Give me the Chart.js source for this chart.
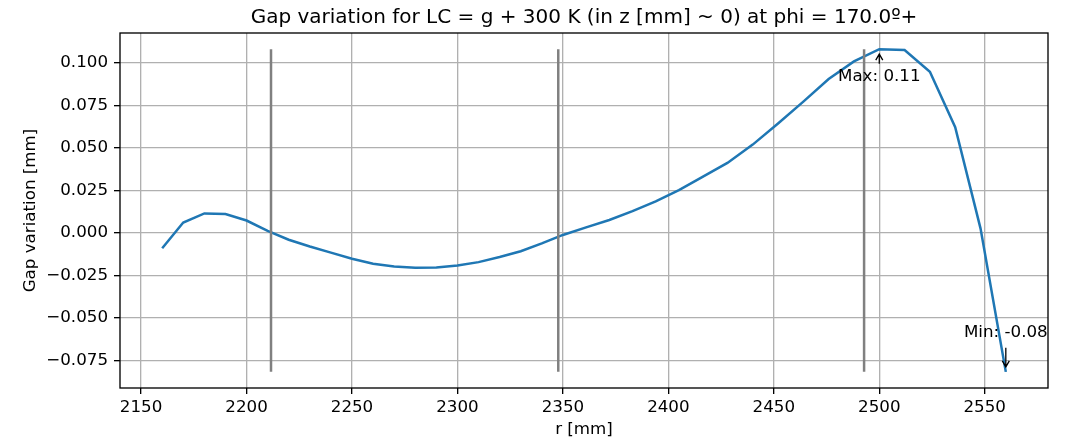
<!DOCTYPE html>
<html>
<head>
<meta charset="utf-8">
<script src="https://cdn.jsdelivr.net/npm/chart.js@4.4.1/dist/chart.umd.min.js"></script>
<style>
  html, body { margin: 0; padding: 0; background: #fff; }
  #wrap { width: 1071px; height: 441px; }
</style>
</head>
<body>
<div id="wrap"><canvas id="gapChart" width="1071" height="441"></canvas></div>
<script>
// r positions [mm] and gap variation [mm]
const rValues = [
  2160, 2170, 2180, 2190, 2200, 2210, 2220, 2230, 2240, 2250,
  2260, 2270, 2280, 2290, 2300, 2310, 2320, 2330, 2340, 2350,
  2361, 2372, 2383, 2394, 2405, 2416, 2428, 2440, 2452, 2464,
  2476, 2488, 2500, 2512, 2524, 2536, 2548, 2560
];
const gapValues = [
  -0.0090, 0.0061, 0.0115, 0.0111, 0.0073, 0.0012, -0.0040, -0.0080, -0.0116, -0.0152,
  -0.0182, -0.0198, -0.0205, -0.0204, -0.0192, -0.0172, -0.0142, -0.0108, -0.0062, -0.0012,
  0.0033, 0.0076, 0.0128, 0.0186, 0.0252, 0.0328, 0.0412, 0.0520, 0.0644, 0.0773,
  0.0906, 0.1010, 0.1082, 0.1077, 0.0949, 0.0622, 0.0027, -0.0818
];
// sector boundaries drawn as vertical grey lines
const sectorEdges = [2211.6, 2347.8, 2492.8];

const xTicks = [2150, 2200, 2250, 2300, 2350, 2400, 2450, 2500, 2550];
const yTicks = [-0.075, -0.05, -0.025, 0, 0.025, 0.05, 0.075, 0.1];

const titleText = 'Gap variation for LC = g + 300 K (in z [mm] ~ 0) at phi = 170.0º+';
const xLabel = 'r [mm]';
const yLabel = 'Gap variation [mm]';

const FONT = '"DejaVu Sans", sans-serif';

const gapMax = Math.max(...gapValues);
const gapMin = Math.min(...gapValues);
const rAtMax = rValues[gapValues.indexOf(gapMax)];
const rAtMin = rValues[gapValues.indexOf(gapMin)];

// matplotlib-like 5% margins
const xPad = (rValues[rValues.length - 1] - rValues[0]) * 0.05;
const yPad = (gapMax - gapMin) * 0.05;

const fmtY = v => {
  const s = Math.abs(v).toFixed(3);
  return v < -1e-9 ? '\u2212' + s : s;
};

const annotations = [
  { text: 'Max: ' + gapMax.toFixed(2), x: rAtMax, y: gapMax, dy: 27.5, startGap: -13, tipGap: 5 },
  { text: 'Min: ' + gapMin.toFixed(2), x: rAtMin, y: gapMin, dy: -39, startGap: 15, tipGap: -5 }
];

const overlayPlugin = {
  id: 'overlay',
  afterDraw(chart) {
    const { ctx, chartArea: a, scales: { x, y } } = chart;
    ctx.save();

    // frame
    ctx.strokeStyle = '#000';
    ctx.lineWidth = 1.33;
    ctx.strokeRect(a.left, a.top, a.right - a.left, a.bottom - a.top);

    ctx.fillStyle = '#000';

    // title
    ctx.font = '20px ' + FONT;
    ctx.textAlign = 'center';
    ctx.textBaseline = 'alphabetic';
    ctx.fillText(titleText, (a.left + a.right) / 2, a.top - 10);

    // axis labels
    ctx.font = '16.7px ' + FONT;
    ctx.textBaseline = 'top';
    ctx.fillText(xLabel, (a.left + a.right) / 2, a.bottom + 33);

    ctx.save();
    ctx.translate(31, (a.top + a.bottom) / 2);
    ctx.rotate(-Math.PI / 2);
    ctx.textBaseline = 'middle';
    ctx.fillText(yLabel, 0, 0);
    ctx.restore();

    // annotations
    annotations.forEach(an => {
      const px = x.getPixelForValue(an.x);
      const py = y.getPixelForValue(an.y);
      const ty = py + an.dy;
      ctx.textAlign = 'center';
      ctx.textBaseline = 'middle';
      ctx.fillText(an.text, px, ty);

      const y0 = ty + an.startGap;
      const y1 = py + an.tipGap;
      const dir = y1 < y0 ? -1 : 1;
      ctx.strokeStyle = '#000';
      ctx.lineWidth = 1.3;
      ctx.beginPath();
      ctx.moveTo(px, y0);
      ctx.lineTo(px, y1);
      ctx.moveTo(px - 3.5, y1 - dir * 6);
      ctx.lineTo(px, y1);
      ctx.lineTo(px + 3.5, y1 - dir * 6);
      ctx.stroke();
    });

    ctx.restore();
  }
};

const sectorSets = sectorEdges.map(r => ({
  data: [{ x: r, y: gapMin }, { x: r, y: gapMax }],
  borderColor: '#808080',
  borderWidth: 2.5,
  pointRadius: 0,
  order: 0
}));

new Chart(document.getElementById('gapChart'), {
  type: 'line',
  data: {
    datasets: [
      {
        data: rValues.map((r, i) => ({ x: r, y: gapValues[i] })),
        borderColor: '#1f77b4',
        borderWidth: 2.5,
        pointRadius: 0,
        tension: 0,
        order: 1
      },
      ...sectorSets
    ]
  },
  options: {
    responsive: false,
    animation: false,
    devicePixelRatio: 1,
    layout: { padding: { top: 33, right: 23, left: 0, bottom: 0 } },
    plugins: {
      legend: { display: false },
      tooltip: { enabled: false },
      title: { display: false }
    },
    scales: {
      x: {
        type: 'linear',
        min: rValues[0] - xPad,
        max: rValues[rValues.length - 1] + xPad,
        afterBuildTicks: s => { s.ticks = xTicks.map(v => ({ value: v })); },
        afterFit: s => { s.height = 53; },
        border: { display: false },
        grid: {
          color: '#b0b0b0',
          lineWidth: 1.33,
          tickLength: 6,
          tickColor: '#000',
          tickWidth: 1.33
        },
        ticks: {
          color: '#000',
          font: { family: FONT, size: 16.7 },
          padding: 4,
          maxRotation: 0,
          autoSkip: false,
          callback: v => String(v)
        }
      },
      y: {
        type: 'linear',
        min: gapMin - yPad,
        max: gapMax + yPad,
        afterBuildTicks: s => { s.ticks = yTicks.map(v => ({ value: v })); },
        afterFit: s => { s.width = 120; },
        border: { display: false },
        grid: {
          color: '#b0b0b0',
          lineWidth: 1.33,
          tickLength: 6,
          tickColor: '#000',
          tickWidth: 1.33
        },
        ticks: {
          color: '#000',
          font: { family: FONT, size: 16.7 },
          padding: 6,
          autoSkip: false,
          callback: v => fmtY(v)
        }
      }
    }
  },
  plugins: [overlayPlugin]
});
</script>
</body>
</html>
